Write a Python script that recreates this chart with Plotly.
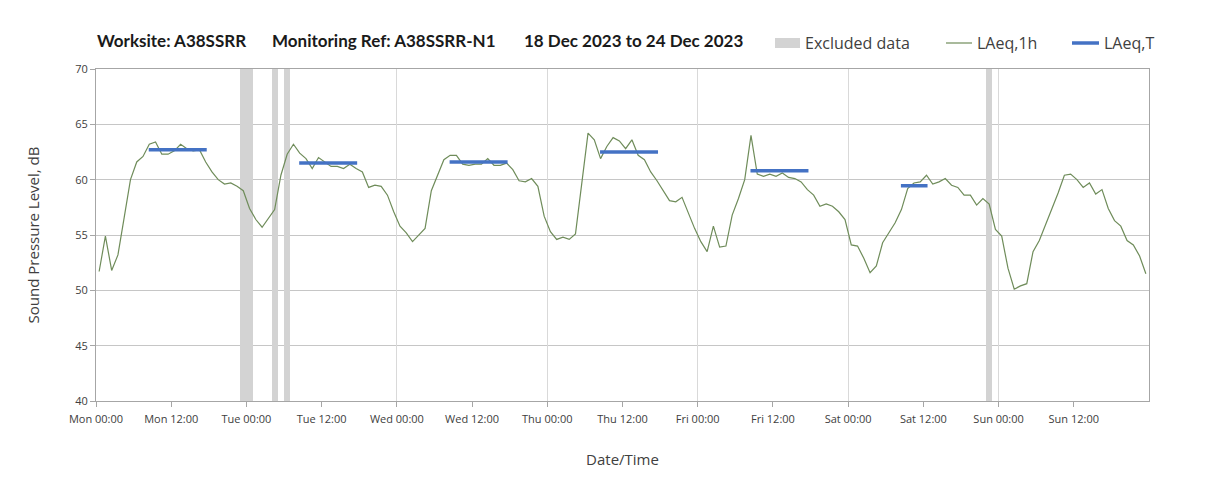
## plot.py

import pandas as pd
import plotly.graph_objects as go

# LAeq,1h - hourly values, Mon 18 Dec 2023 to Sun 24 Dec 2023 (168 hours)
laeq_1h = [
    51.7, 54.9, 51.8, 53.2, 56.6, 60.0, 61.6, 62.1, 63.2, 63.4, 62.3, 62.3,
    62.6, 63.2, 62.8, 62.6, 62.7, 61.6, 60.7, 60.0, 59.6, 59.7, 59.4, 59.0,
    57.4, 56.4, 55.7, 56.5, 57.3, 60.4, 62.3, 63.2, 62.4, 61.9, 61.0, 62.0,
    61.6, 61.2, 61.2, 61.0, 61.4, 61.0, 60.7, 59.3, 59.5, 59.4, 58.6, 57.1,
    55.8, 55.2, 54.4, 55.0, 55.6, 59.0, 60.4, 61.8, 62.2, 62.2, 61.4, 61.3,
    61.4, 61.4, 61.9, 61.3, 61.3, 61.5, 60.9, 59.9, 59.8, 60.1, 59.4, 56.7,
    55.3, 54.6, 54.8, 54.6, 55.1, 59.9, 64.2, 63.6, 61.9, 63.0, 63.8, 63.5,
    62.8, 63.6, 62.2, 61.8, 60.7, 59.9, 59.0, 58.1, 58.0, 58.4, 57.0, 55.6,
    54.4, 53.5, 55.8, 53.9, 54.0, 56.8, 58.3, 60.0, 64.0, 60.5, 60.3, 60.5,
    60.3, 60.6, 60.2, 60.1, 59.8, 59.1, 58.6, 57.6, 57.8, 57.6, 57.1, 56.4,
    54.1, 54.0, 52.9, 51.6, 52.2, 54.3, 55.2, 56.1, 57.3, 59.2, 59.7, 59.8,
    60.4, 59.6, 59.8, 60.1, 59.5, 59.3, 58.6, 58.6, 57.7, 58.3, 57.8, 55.5,
    54.9, 52.0, 50.1, 50.4, 50.6, 53.5, 54.5, 55.9, 57.4, 58.8, 60.4, 60.5,
    60.0, 59.3, 59.7, 58.7, 59.1, 57.4, 56.3, 55.8, 54.5, 54.1, 53.1, 51.5,
]
hours = pd.date_range("2023-12-18 00:30", periods=len(laeq_1h), freq="h")

# LAeq,T - daytime period levels
laeq_t_start = ["2023-12-18 08:25", "2023-12-19 08:25", "2023-12-20 08:25",
                "2023-12-21 08:25", "2023-12-22 08:25", "2023-12-23 08:25"]
laeq_t_end = ["2023-12-18 17:40", "2023-12-19 17:40", "2023-12-20 17:40",
              "2023-12-21 17:40", "2023-12-22 17:40", "2023-12-23 12:40"]
laeq_t_value = [62.7, 61.5, 61.6, 62.5, 60.8, 59.45]

# Excluded data periods
excluded_start = ["2023-12-18 23:00", "2023-12-19 04:00",
                  "2023-12-19 06:00", "2023-12-23 22:00"]
excluded_end = ["2023-12-19 01:00", "2023-12-19 05:00",
                "2023-12-19 07:00", "2023-12-23 23:00"]

# x tick labels every 12 hours (no label at the very end)
tick_vals = pd.date_range("2023-12-18 00:00", "2023-12-24 12:00", freq="12h")

y_min, y_max = 40, 70

# colours
c_excl = "#d3d3d3"
c_1h = "#6f8c5a"
c_t = "#4472c4"
c_text = "#404040"

# the page body adds an 8px margin, so work in window pixels and shift back
OFF = 8
W, H = 1208 - OFF, 490 - OFF
L, R, T, B = 96 - OFF, 1149 - OFF, 69 - OFF, 401 - OFF


def px_x(px):
    return (px - OFF - L) / (R - L)


def px_y(py):
    return (B - (py - OFF)) / (B - T)


# build the bars for the excluded periods
ex_s = pd.to_datetime(excluded_start)
ex_e = pd.to_datetime(excluded_end)
ex_mid = ex_s + (ex_e - ex_s) / 2
ex_width = [(e - s).total_seconds() * 1000 for s, e in zip(ex_s, ex_e)]

# LAeq,T segments separated by gaps
t_x, t_y = [], []
for s, e, v in zip(laeq_t_start, laeq_t_end, laeq_t_value):
    t_x += [s, e, None]
    t_y += [v, v, None]

fig = go.Figure()

fig.add_trace(go.Bar(
    x=ex_mid, y=[y_max - y_min] * len(ex_mid), base=y_min, width=ex_width,
    marker=dict(color=c_excl, line=dict(width=0)),
    name="Excluded data", showlegend=False
))
fig.add_trace(go.Scatter(
    x=hours, y=laeq_1h, mode="lines",
    line=dict(color=c_1h, width=1.2),
    name="LAeq,1h", showlegend=False
))
fig.add_trace(go.Scatter(
    x=t_x, y=t_y, mode="lines",
    line=dict(color=c_t, width=3.5),
    name="LAeq,T", showlegend=False
))
# dummy trace so the daily grid axis gets drawn
fig.add_trace(go.Scatter(x=[hours[0]], y=[None], xaxis="x2",
                         showlegend=False, hoverinfo="skip"))

x_range = ["2023-12-18 00:00", "2023-12-25 00:00"]
tick_font = dict(family="Open Sans", size=11, color=c_text)

fig.update_layout(
    width=W, height=H,
    margin=dict(l=L, r=W - R, t=T, b=H - B, autoexpand=False),
    paper_bgcolor="white", plot_bgcolor="white",
    font=dict(family="Open Sans", color=c_text),
    bargap=0,
    showlegend=False,
    xaxis=dict(
        type="date", range=x_range, tickvals=tick_vals,
        tickformat="%a %H:%M", tickfont=tick_font,
        ticks="outside", ticklen=5, tickcolor="#a6a6a6", ticklabelstandoff=3,
        showgrid=False, showline=True, mirror=True, linecolor="#a6a6a6",
        zeroline=False, automargin=False,
        title=dict(text="Date/Time", font=dict(size=15, color=c_text), standoff=29),
    ),
    xaxis2=dict(
        type="date", range=x_range, overlaying="x", matches="x",
        dtick=24 * 3600 * 1000, tick0="2023-12-18",
        showgrid=True, gridcolor="#d9d9d9", gridwidth=1,
        showticklabels=False, ticks="", showline=False, zeroline=False,
    ),
    yaxis=dict(
        range=[y_min, y_max], dtick=5, tickfont=tick_font,
        ticks="outside", ticklen=5, tickcolor="#a6a6a6",
        showgrid=True, gridcolor="#c6c6c6", gridwidth=1,
        showline=True, mirror=True, linecolor="#a6a6a6", zeroline=False,
        automargin=False,
        title=dict(text="Sound Pressure Level, dB", font=dict(size=15, color=c_text),
                   standoff=31),
    ),
)

# chart title in three parts
title_font = dict(family="Lato", size=17, color="#1a1a1a")
for txt, px in [("<b>Worksite: A38SSRR</b>", 95),
                ("<b>Monitoring Ref: A38SSRR-N1</b>", 270),
                ("<b>18 Dec 2023 to 24 Dec 2023</b>", 522)]:
    fig.add_annotation(text=txt, xref="paper", yref="paper",
                       x=px_x(px), y=px_y(40),
                       xanchor="left", yanchor="middle", showarrow=False,
                       font=title_font)

# legend drawn by hand so the spacing matches
leg_y = 43
leg_font = dict(family="Open Sans", size=16, color=c_text)
fig.add_shape(type="rect", xref="paper", yref="paper",
              x0=px_x(775), x1=px_x(800), y0=px_y(leg_y + 5), y1=px_y(leg_y - 5),
              fillcolor=c_excl, line=dict(width=0))
fig.add_shape(type="line", xref="paper", yref="paper",
              x0=px_x(946), x1=px_x(972), y0=px_y(leg_y), y1=px_y(leg_y),
              line=dict(color=c_1h, width=1.2))
fig.add_shape(type="line", xref="paper", yref="paper",
              x0=px_x(1072), x1=px_x(1099), y0=px_y(leg_y), y1=px_y(leg_y),
              line=dict(color=c_t, width=3.5))
for txt, px in [("Excluded data", 803), ("LAeq,1h", 975), ("LAeq,T", 1102)]:
    fig.add_annotation(text=txt, xref="paper", yref="paper",
                       x=px_x(px), y=px_y(leg_y),
                       xanchor="left", yanchor="middle", showarrow=False,
                       font=leg_font)

fig.write_html("out.html")
